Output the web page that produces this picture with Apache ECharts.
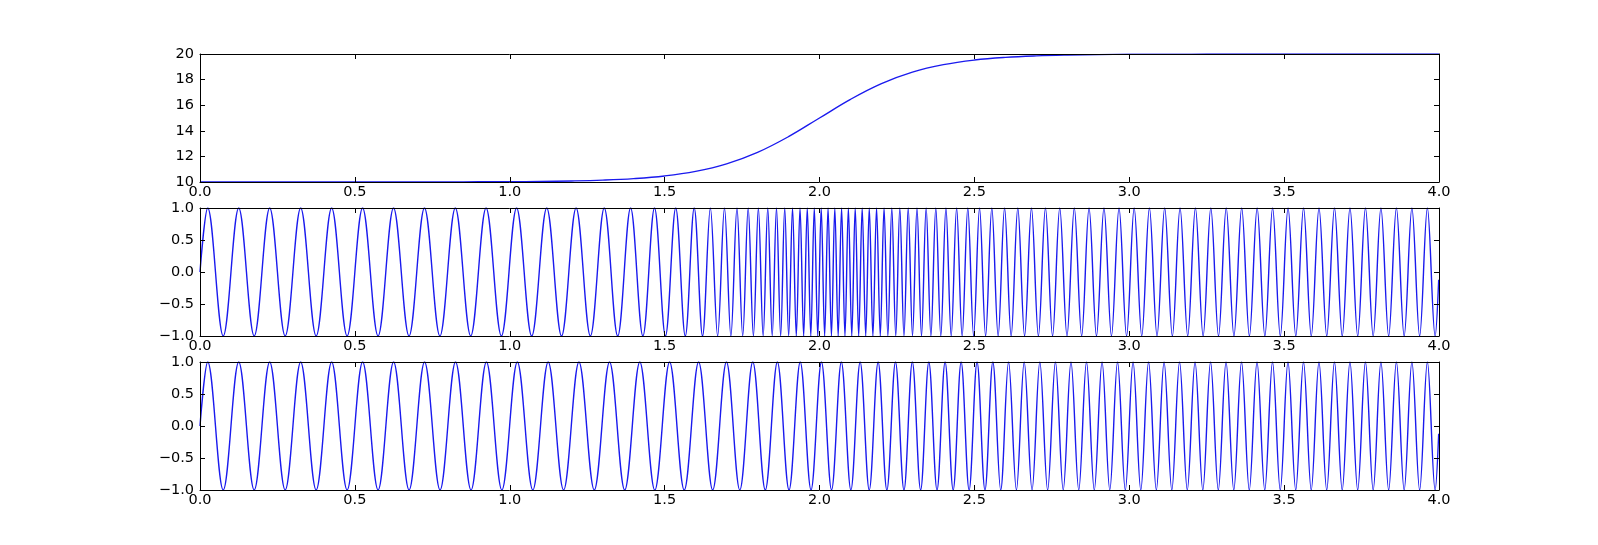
<!DOCTYPE html>
<html>
<head>
<meta charset="utf-8">
<script src="https://cdn.jsdelivr.net/npm/echarts@6/dist/echarts.min.js"></script>
<style>
html,body{margin:0;padding:0;background:#ffffff;}
#chart{width:1598px;height:545px;}
</style>
</head>
<body>
<div id="chart"></div>
<script>
// ---------- tick values and labels ----------
const xTicks = [0, 0.5, 1, 1.5, 2, 2.5, 3, 3.5, 4];
const xTickLabels = ['0.0', '0.5', '1.0', '1.5', '2.0', '2.5', '3.0', '3.5', '4.0'];
const topYTicks = [10, 12, 14, 16, 18, 20];
const topYTickLabels = ['10', '12', '14', '16', '18', '20'];
const waveYTicks = [-1, -0.5, 0, 0.5, 1];
const waveYTickLabels = ['\u22121.0', '\u22120.5', '0.0', '0.5', '1.0'];

// ---------- top panel: frequency curve ----------
const freqT = [0.0, 0.1, 0.2, 0.3, 0.4, 0.5, 0.6, 0.7, 0.8, 0.9,
  1.0, 1.1, 1.2, 1.3, 1.4, 1.5, 1.6, 1.7, 1.8, 1.9,
  2.0, 2.1, 2.2, 2.3, 2.4, 2.5, 2.6, 2.7, 2.8, 2.9,
  3.0, 3.1, 3.2, 3.3, 3.4, 3.5, 3.6, 3.7, 3.8, 3.9, 4.0];
const freqValues = [10, 10, 10, 10, 10, 10.001, 10.002, 10.004, 10.007, 10.014,
  10.025, 10.045, 10.082, 10.148, 10.266, 10.474, 10.832, 11.419, 12.315, 13.543,
  15.0, 16.457, 17.685, 18.581, 19.168, 19.526, 19.734, 19.852, 19.918, 19.955,
  19.975, 19.986, 19.993, 19.996, 19.998, 19.999, 20, 20, 20, 20, 20];

// ---------- middle panel: positions of maxima / minima ----------
const peakValue = 1;
const troughValue = -1;
const midStart = [0, 0];
const midEnd = [3.999, -0.12];
const midPeaksT = [0.025, 0.125, 0.225, 0.325, 0.425, 0.5249, 0.6248, 0.7247, 0.8243, 0.9236,
  1.0221, 1.1194, 1.2142, 1.3051, 1.3901, 1.4673, 1.5358, 1.5955, 1.6476, 1.6932,
  1.7335, 1.7697, 1.8026, 1.8329, 1.8611, 1.8877, 1.9129, 1.9371, 1.9605, 1.9832,
  2.0055, 2.0276, 2.0494, 2.0713, 2.0932, 2.1153, 2.1378, 2.1607, 2.1842, 2.2084,
  2.2334, 2.2593, 2.2864, 2.3147, 2.3443, 2.3755, 2.4082, 2.4427, 2.4788, 2.5167,
  2.5563, 2.5975, 2.6402, 2.6843, 2.7295, 2.7756, 2.8226, 2.8702, 2.9184, 2.9670,
  3.0159, 3.0651, 3.1144, 3.1640, 3.2136, 3.2633, 3.3131, 3.3630, 3.4129, 3.4628,
  3.5127, 3.5627, 3.6126, 3.6626, 3.7126, 3.7626, 3.8125, 3.8625, 3.9125, 3.9625];
const midTroughsT = [0.075, 0.175, 0.275, 0.375, 0.475, 0.5749, 0.6748, 0.7745, 0.8740, 0.9730,
  1.0709, 1.1672, 1.2603, 1.3485, 1.4298, 1.5027, 1.5667, 1.6224, 1.6711, 1.7139,
  1.7521, 1.7866, 1.8181, 1.8473, 1.8746, 1.9004, 1.9251, 1.9489, 1.9719, 1.9944,
  2.0166, 2.0385, 2.0603, 2.0822, 2.1042, 2.1265, 2.1492, 2.1724, 2.1962, 2.2207,
  2.2462, 2.2727, 2.3003, 2.3293, 2.3597, 2.3916, 2.4252, 2.4605, 2.4976, 2.5363,
  2.5767, 2.6187, 2.6621, 2.7067, 2.7524, 2.7990, 2.8463, 2.8942, 2.9426, 2.9914,
  3.0404, 3.0897, 3.1392, 3.1888, 3.2385, 3.2882, 3.3380, 3.3879, 3.4378, 3.4877,
  3.5377, 3.5876, 3.6376, 3.6876, 3.7376, 3.7875, 3.8375, 3.8875, 3.9375, 3.9875];

// ---------- bottom panel: positions of maxima / minima ----------
const botStart = [0, 0];
const botEnd = [3.999, -0.12];
const botPeaksT = [0.025, 0.125, 0.225, 0.325, 0.425, 0.525, 0.625, 0.725, 0.825, 0.9247,
  1.0245, 1.1241, 1.2234, 1.3222, 1.4199, 1.5161, 1.6097, 1.6996, 1.7846, 1.8640,
  1.9378, 2.0063, 2.0705, 2.1312, 2.1893, 2.2453, 2.2997, 2.3530, 2.4055, 2.4573,
  2.5087, 2.5596, 2.6104, 2.6609, 2.7113, 2.7617, 2.8119, 2.8620, 2.9122, 2.9622,
  3.0123, 3.0624, 3.1124, 3.1624, 3.2124, 3.2625, 3.3125, 3.3625, 3.4125, 3.4625,
  3.5125, 3.5625, 3.6125, 3.6625, 3.7125, 3.7625, 3.8125, 3.8625, 3.9125, 3.9625];
const botTroughsT = [0.075, 0.175, 0.275, 0.375, 0.475, 0.575, 0.675, 0.775, 0.875, 0.9746,
  1.0744, 1.1738, 1.2729, 1.3712, 1.4683, 1.5633, 1.6552, 1.7427, 1.8250, 1.9016,
  1.9726, 2.0389, 2.1013, 2.1606, 2.2175, 2.2727, 2.3265, 2.3794, 2.4315, 2.4830,
  2.5342, 2.5850, 2.6357, 2.6862, 2.7365, 2.7868, 2.8370, 2.8871, 2.9372, 2.9873,
  3.0373, 3.0874, 3.1374, 3.1874, 3.2375, 3.2875, 3.3375, 3.3875, 3.4375, 3.4875,
  3.5375, 3.5875, 3.6375, 3.6875, 3.7375, 3.7875, 3.8375, 3.8875, 3.9375, 3.9875];

// ---------- helpers ----------
function labelFor(ticks, labels) {
  return function (v) {
    for (let i = 0; i < ticks.length; i++) {
      if (Math.abs(ticks[i] - v) < 1e-9) return labels[i];
    }
    return '';
  };
}
function waveData(start, peaks, troughs, end) {
  const pts = [start.slice()];
  peaks.forEach(t => pts.push([t, peakValue]));
  troughs.forEach(t => pts.push([t, troughValue]));
  pts.push(end.slice());
  pts.sort((a, b) => a[0] - b[0]);
  return pts;
}

const FONT = 'DejaVu Sans';
const FS = 14.5;
const LINE_COLOR = '#1a1aee';

const grids = [
  { left: 200, top: 54, width: 1239, height: 128 },
  { left: 200, top: 208, width: 1239, height: 128 },
  { left: 200, top: 362, width: 1239, height: 128 }
];

const xAxes = [];
const yAxes = [];
grids.forEach((g, i) => {
  ['bottom', 'top'].forEach(pos => {
    xAxes.push({
      type: 'value', gridIndex: i, position: pos,
      min: 0, max: 4, interval: 0.5, z: 5,
      axisLine: { show: true, onZero: false, lineStyle: { color: '#000', width: 1 } },
      axisTick: { show: true, inside: true, length: 5, lineStyle: { color: '#000', width: 1 } },
      axisLabel: {
        show: pos === 'bottom', margin: 3, color: '#000', fontSize: FS, fontFamily: FONT,
        showMinLabel: true, showMaxLabel: true,
        formatter: labelFor(xTicks, xTickLabels)
      },
      splitLine: { show: false }
    });
  });
  const isTop = i === 0;
  ['left', 'right'].forEach(pos => {
    yAxes.push({
      type: 'value', gridIndex: i, position: pos,
      min: isTop ? 10 : -1, max: isTop ? 20 : 1, interval: isTop ? 2 : 0.5, z: 5,
      axisLine: { show: true, onZero: false, lineStyle: { color: '#000', width: 1 } },
      axisTick: { show: true, inside: true, length: 5, lineStyle: { color: '#000', width: 1 } },
      axisLabel: {
        show: pos === 'left', margin: 6, color: '#000', fontSize: FS, fontFamily: FONT,
        showMinLabel: true, showMaxLabel: true,
        formatter: isTop ? labelFor(topYTicks, topYTickLabels) : labelFor(waveYTicks, waveYTickLabels)
      },
      splitLine: { show: false }
    });
  });
});

const lineStyle = { color: LINE_COLOR, width: 1.4 };

const option = {
  animation: false,
  backgroundColor: '#ffffff',
  grid: grids.map(g => Object.assign({ containLabel: false, show: false }, g)),
  xAxis: xAxes,
  yAxis: yAxes,
  series: [
    {
      type: 'line', xAxisIndex: 0, yAxisIndex: 0,
      data: freqT.map((t, k) => [t, freqValues[k]]),
      showSymbol: false, symbol: 'none', smooth: 0.4, lineStyle: lineStyle, z: 2
    },
    {
      type: 'line', xAxisIndex: 2, yAxisIndex: 2,
      data: waveData(midStart, midPeaksT, midTroughsT, midEnd),
      showSymbol: false, symbol: 'none', smooth: 0.36, lineStyle: lineStyle, z: 2
    },
    {
      type: 'line', xAxisIndex: 4, yAxisIndex: 4,
      data: waveData(botStart, botPeaksT, botTroughsT, botEnd),
      showSymbol: false, symbol: 'none', smooth: 0.36, lineStyle: lineStyle, z: 2
    }
  ]
};

const chart = echarts.init(document.getElementById('chart'), null, { renderer: 'canvas' });
chart.setOption(option);
</script>
</body>
</html>
